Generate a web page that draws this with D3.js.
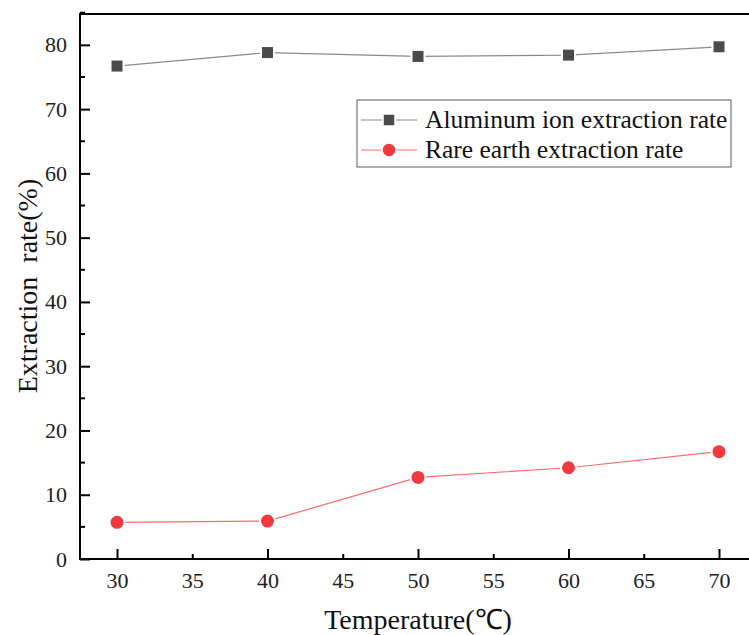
<!DOCTYPE html>
<html>
<head>
<meta charset="utf-8">
<script src="https://cdn.jsdelivr.net/npm/d3@7"></script>
<style>
  body { margin: 0; background: #fff; }
  svg text { font-family: "Liberation Serif", "Times New Roman", serif; fill: #111; }
</style>
</head>
<body>
<div id="chart"></div>
<script>
// data
const temperatures = [30, 40, 50, 60, 70];
const aluminumRate = [76.7, 78.8, 78.2, 78.4, 79.7];
const rareEarthRate = [5.7, 5.9, 12.7, 14.2, 16.7];
const xTicks = [30, 35, 40, 45, 50, 55, 60, 65, 70];
const yTicks = [0, 10, 20, 30, 40, 50, 60, 70, 80];

const width = 749, height = 635;
const margin = { top: 14, right: -4, bottom: 76, left: 80 };
const innerW = width - margin.left - margin.right;
const innerH = height - margin.top - margin.bottom;
const serif = '"Liberation Serif", "Times New Roman", serif';

const svg = d3.select("#chart")
  .append("svg")
  .attr("width", width)
  .attr("height", height);

const g = svg.append("g")
  .attr("transform", "translate(" + margin.left + "," + margin.top + ")");

// 30 sits 37px from the left axis, 70 near the cut right edge
var x = d3.scaleLinear().domain([30, 70]).range([37, 639]);
var y = d3.scaleLinear().domain([0, 84.8]).range([innerH, 0]);

// frame (top edge, right is cut off)
g.append("line")
  .attr("x1", 0).attr("x2", innerW + 10)
  .attr("y1", 0).attr("y2", 0)
  .style("stroke", "#000").style("stroke-width", 2);

// x axis with inward ticks
var xAxis = d3.axisBottom(x).tickValues(xTicks).tickSize(0).tickPadding(13).tickFormat(d3.format("d"));
const gx = g.append("g")
  .attr("transform", "translate(0," + innerH + ")")
  .call(xAxis);
gx.select(".domain").remove();
gx.selectAll("text")
  .style("font-family", serif)
  .style("font-size", "22px")
  .style("fill", "#222");
gx.selectAll(".tick").append("line")
  .attr("y1", 0)
  .attr("y2", (d, i) => (i % 2 === 0 ? -10 : -5))
  .style("stroke", "#000").style("stroke-width", 2);
g.append("line")
  .attr("x1", -1).attr("x2", innerW + 10)
  .attr("y1", innerH).attr("y2", innerH)
  .style("stroke", "#000").style("stroke-width", 2);

// y axis with inward ticks and minor ticks
var yAxis = d3.axisLeft(y).tickValues(yTicks).tickSize(0).tickPadding(13);
const gy = g.append("g").call(yAxis);
gy.select(".domain").remove();
gy.selectAll("text")
  .style("font-family", serif)
  .style("font-size", "22px")
  .style("fill", "#222");
gy.selectAll(".tick").append("line")
  .attr("x1", 0).attr("x2", 10)
  .style("stroke", "#000").style("stroke-width", 2);
g.selectAll(".yminor")
  .data(yTicks.map(d => d + 5))
  .enter().append("line")
  .attr("x1", 0).attr("x2", 5)
  .attr("y1", d => y(d)).attr("y2", d => y(d))
  .style("stroke", "#000").style("stroke-width", 2);
g.append("line")
  .attr("x1", 0).attr("x2", 0)
  .attr("y1", -1).attr("y2", innerH + 1)
  .style("stroke", "#000").style("stroke-width", 2);

// axis titles
svg.append("text")
  .attr("x", 418).attr("y", 629)
  .attr("text-anchor", "middle")
  .style("font-size", "28px")
  .text("Temperature(℃)");
svg.append("text")
  .attr("transform", "translate(37,286) rotate(-90)")
  .attr("text-anchor", "middle")
  .style("font-size", "28px")
  .style("white-space", "pre")
  .text("Extraction  rate(%)");

var valueline = d3.line()
  .x((d, i) => x(temperatures[i]))
  .y(d => y(d));

const alColor = "#4b4b4b", alLine = "#8a8a8a";
const reColor = "#f2393e", reLine = "#ff6b6b";

g.append("path").datum(aluminumRate)
  .attr("d", valueline)
  .style("fill", "none").style("stroke", alLine).style("stroke-width", 1.2);
g.append("path").datum(rareEarthRate)
  .attr("d", valueline)
  .style("fill", "none").style("stroke", reLine).style("stroke-width", 1.2);

g.selectAll(".al")
  .data(aluminumRate)
  .enter().append("rect")
  .attr("x", (d, i) => x(temperatures[i]) - 6.5)
  .attr("y", d => y(d) - 6.5)
  .attr("width", 13).attr("height", 13)
  .style("fill", alColor).style("stroke", "#fff").style("stroke-width", 2);

g.selectAll(".re")
  .data(rareEarthRate)
  .enter().append("circle")
  .attr("cx", (d, i) => x(temperatures[i]))
  .attr("cy", d => y(d))
  .attr("r", 7.5)
  .style("fill", reColor).style("stroke", "#fff").style("stroke-width", 2);

// legend
const legend = svg.append("g");
legend.append("rect")
  .attr("x", 357).attr("y", 100)
  .attr("width", 374).attr("height", 67)
  .style("fill", "#fff").style("stroke", "#777").style("stroke-width", 1.2);

const items = [
  { name: "Aluminum ion extraction rate", color: alColor, line: alLine, shape: "square" },
  { name: "Rare earth extraction rate", color: reColor, line: reLine, shape: "circle" }
];
items.forEach((it, i) => {
  const cy = 120 + i * 30;
  legend.append("line")
    .attr("x1", 361).attr("x2", 417)
    .attr("y1", cy).attr("y2", cy)
    .style("stroke", it.line).style("stroke-width", 1.2);
  if (it.shape === "square") {
    legend.append("rect")
      .attr("x", 383).attr("y", cy - 6)
      .attr("width", 12).attr("height", 12)
      .style("fill", it.color).style("stroke", "#fff").style("stroke-width", 1.5);
  } else {
    legend.append("circle")
      .attr("cx", 389).attr("cy", cy)
      .attr("r", 7)
      .style("fill", it.color).style("stroke", "#fff").style("stroke-width", 1.5);
  }
  legend.append("text")
    .attr("x", 425).attr("y", cy + 8)
    .style("font-size", "25.5px")
    .text(it.name);
});
</script>
</body>
</html>
